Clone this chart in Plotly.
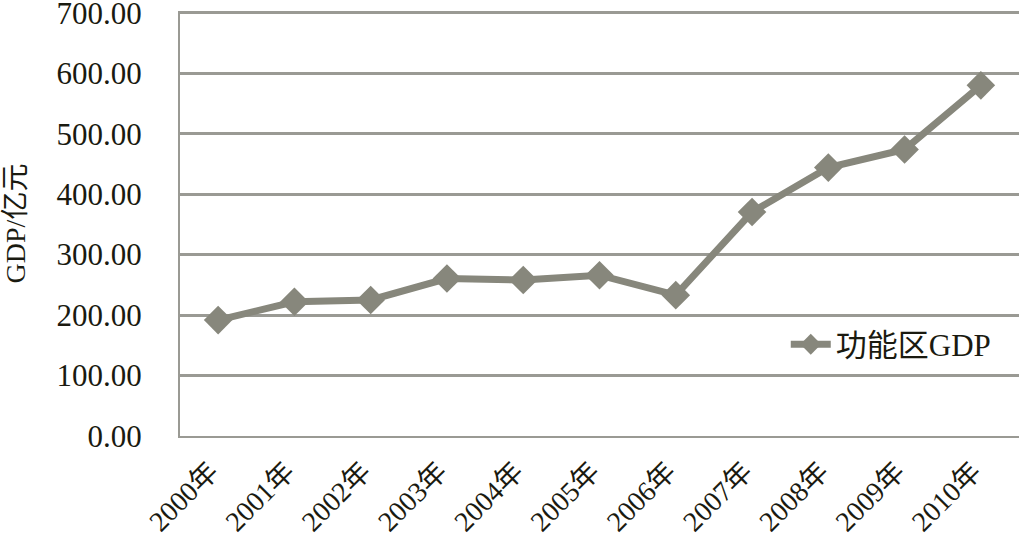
import plotly.graph_objects as go

years = ["2000年", "2001年", "2002年", "2003年", "2004年", "2005年",
         "2006年", "2007年", "2008年", "2009年", "2010年"]
gdp = [191.7, 222.0, 225.0, 260.5, 258.0, 266.0, 233.0, 370.5, 444.0, 474.0, 580.0]
y_ticks = [0, 100, 200, 300, 400, 500, 600, 700]
y_tick_text = ["0.00", "100.00", "200.00", "300.00", "400.00", "500.00", "600.00", "700.00"]
series_name = "功能区GDP"
y_title = "GDP/亿元"

FONT = "Liberation Serif, 'Times New Roman', 'Noto Sans CJK SC', serif"
LINE = "#87877c"
GRID = "#9a9a94"

fig = go.Figure()
fig.add_trace(go.Scatter(
    x=years, y=gdp, mode="lines+markers", name=series_name,
    line=dict(color=LINE, width=7),
    marker=dict(symbol="diamond", size=22, color=LINE),
))

fig.update_layout(
    width=1019, height=548,
    margin=dict(l=180, r=0, t=11, b=112),
    paper_bgcolor="white", plot_bgcolor="white",
    font=dict(family=FONT, color="#1a1a10", size=26),
    showlegend=True,
    legend=dict(x=0.722, y=0.215, xanchor="left", yanchor="middle",
                bgcolor="rgba(0,0,0,0)", font=dict(size=31, family=FONT),
                itemwidth=40),
    xaxis=dict(
        type="category", tickangle=-45, showgrid=False,
        showline=True, linecolor=GRID, linewidth=2,
        ticks="", tickfont=dict(size=28, family=FONT),
        ticklabelstandoff=6, ticklabelshift=-8,
        ticklabeloverflow="allow",
        range=[-0.5, 10.5], automargin=False,
    ),
    yaxis=dict(
        range=[0, 703], tickvals=y_ticks, ticktext=y_tick_text,
        showgrid=True, gridcolor=GRID, gridwidth=2.5,
        showline=True, linecolor=GRID, linewidth=2,
        zeroline=False, ticks="", ticklabelstandoff=30,
        ticklabeloverflow="allow",
        tickfont=dict(size=31, family=FONT),
        title=dict(text=y_title, font=dict(size=28, family=FONT), standoff=27),
        automargin=False,
    ),
)

fig.write_html("out.html", config={"displayModeBar": False},
               post_script="document.body.style.margin='0';")
